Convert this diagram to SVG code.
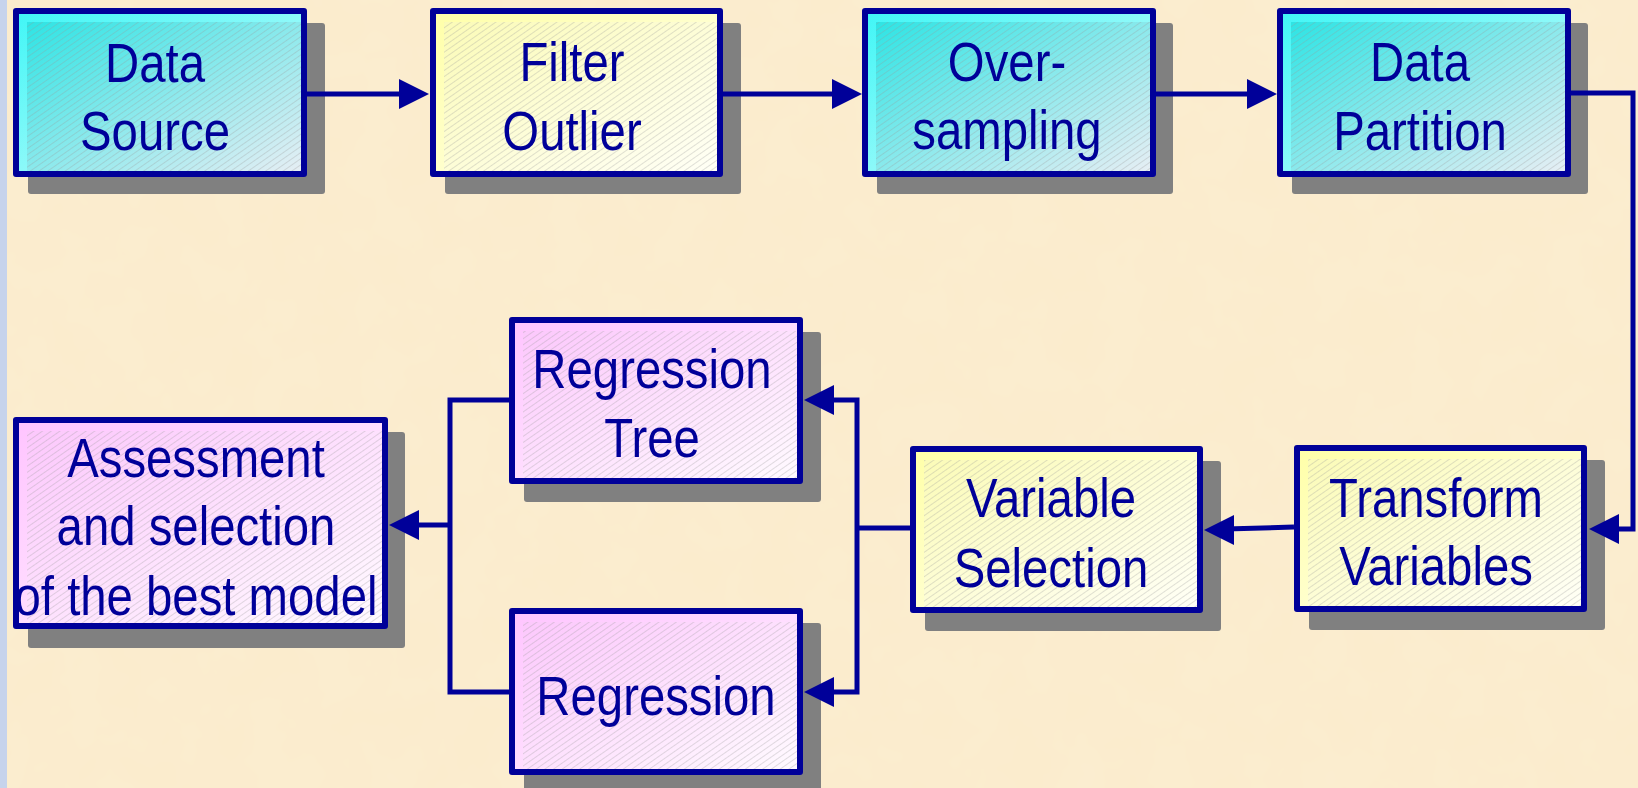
<svg xmlns="http://www.w3.org/2000/svg" width="1638" height="788" viewBox="0 0 1638 788">
<defs>
<style>
.t{font-family:"Liberation Sans",Arial,sans-serif;font-size:56px;fill:#000099;text-anchor:middle}
.shadow{fill:#808080}
.border{fill:none;stroke:#000099;stroke-width:6;stroke-linejoin:round}
.conn{fill:none;stroke:#000099;stroke-width:5;stroke-linejoin:miter}
.ah{fill:#000099}
</style>
<linearGradient id="gcO" x1="0" y1="0" x2="1" y2="1"><stop offset="0" stop-color="#3ff6f6"/><stop offset="1" stop-color="#d8fcfc"/></linearGradient>
<linearGradient id="gcI" x1="0" y1="0" x2="1" y2="1"><stop offset="0" stop-color="#2ee4e4"/><stop offset="1" stop-color="#e6eef4"/></linearGradient>
<linearGradient id="gyO" x1="0" y1="0" x2="1" y2="1"><stop offset="0" stop-color="#ffffa8"/><stop offset="1" stop-color="#fffff0"/></linearGradient>
<linearGradient id="gyI" x1="0" y1="0" x2="1" y2="1"><stop offset="0" stop-color="#fbfbb8"/><stop offset="1" stop-color="#fffff6"/></linearGradient>
<linearGradient id="gpO" x1="0" y1="0" x2="1" y2="1"><stop offset="0" stop-color="#ffc4ff"/><stop offset="1" stop-color="#fff6ff"/></linearGradient>
<linearGradient id="gpI" x1="0" y1="0" x2="1" y2="1"><stop offset="0" stop-color="#fcc8fc"/><stop offset="1" stop-color="#fffaff"/></linearGradient>
<pattern id="hatch" patternUnits="userSpaceOnUse" width="5" height="5" patternTransform="rotate(-35)">
<line x1="0" y1="2.5" x2="5" y2="2.5" stroke="#9a9a9a" stroke-opacity="0.3" stroke-width="1"/>
</pattern>
<filter id="mottle" x="0" y="0" width="100%" height="100%">
<feTurbulence type="fractalNoise" baseFrequency="0.02" numOctaves="3" seed="4"/>
<feColorMatrix type="matrix" values="0 0 0 0 0.96  0 0 0 0 0.86  0 0 0 0 0.66  0 0 0 0.6 -0.15"/>
</filter>
<path id="arrow" class="ah" d="M-30,-15 L0,0 L-30,15 Z"/>
</defs>

<rect x="0" y="0" width="1638" height="788" fill="#fbeccd"/>
<rect x="0" y="0" width="1638" height="788" filter="url(#mottle)"/>
<rect x="0" y="0" width="7" height="788" fill="#c6d3ec"/>

<g id="data-source">
<rect class="shadow" x="28" y="23" width="297" height="171" rx="3"/>
<rect x="16" y="11" width="288" height="163" fill="url(#gcO)"/>
<rect x="27" y="22" width="274" height="149" fill="url(#gcI)"/>
<rect x="27" y="22" width="274" height="149" fill="url(#hatch)"/>
<rect class="border" x="16" y="11" width="288" height="163"/>
<text class="t" transform="translate(155,82) scale(0.845,1)"><tspan x="0" y="0">Data</tspan><tspan x="0" y="68">Source</tspan></text>
</g>

<g id="filter-outlier">
<rect class="shadow" x="445" y="23" width="296" height="171" rx="3"/>
<rect x="433" y="11" width="287" height="163" fill="url(#gyO)"/>
<rect x="444" y="22" width="273" height="149" fill="url(#gyI)"/>
<rect x="444" y="22" width="273" height="149" fill="url(#hatch)"/>
<rect class="border" x="433" y="11" width="287" height="163"/>
<text class="t" transform="translate(572,81) scale(0.845,1)"><tspan x="0" y="0">Filter</tspan><tspan x="0" y="69">Outlier</tspan></text>
</g>

<g id="over-sampling">
<rect class="shadow" x="877" y="23" width="296" height="171" rx="3"/>
<rect x="865" y="11" width="288" height="163" fill="url(#gcO)"/>
<rect x="876" y="22" width="274" height="149" fill="url(#gcI)"/>
<rect x="876" y="22" width="274" height="149" fill="url(#hatch)"/>
<rect class="border" x="865" y="11" width="288" height="163"/>
<text class="t" transform="translate(1007,81) scale(0.845,1)"><tspan x="0" y="0">Over-</tspan><tspan x="0" y="68">sampling</tspan></text>
</g>

<g id="data-partition">
<rect class="shadow" x="1292" y="23" width="296" height="171" rx="3"/>
<rect x="1280" y="11" width="288" height="163" fill="url(#gcO)"/>
<rect x="1291" y="22" width="274" height="149" fill="url(#gcI)"/>
<rect x="1291" y="22" width="274" height="149" fill="url(#hatch)"/>
<rect class="border" x="1280" y="11" width="288" height="163"/>
<text class="t" transform="translate(1420,81) scale(0.845,1)"><tspan x="0" y="0">Data</tspan><tspan x="0" y="69">Partition</tspan></text>
</g>

<g id="transform-variables">
<rect class="shadow" x="1309" y="460" width="296" height="170" rx="3"/>
<rect x="1297" y="448" width="287" height="161" fill="url(#gyO)"/>
<rect x="1308" y="459" width="273" height="147" fill="url(#gyI)"/>
<rect x="1308" y="459" width="273" height="147" fill="url(#hatch)"/>
<rect class="border" x="1297" y="448" width="287" height="161"/>
<text class="t" transform="translate(1436,517) scale(0.845,1)"><tspan x="0" y="0">Transform</tspan><tspan x="0" y="68">Variables</tspan></text>
</g>

<g id="variable-selection">
<rect class="shadow" x="925" y="461" width="296" height="170" rx="3"/>
<rect x="913" y="449" width="287" height="161" fill="url(#gyO)"/>
<rect x="924" y="460" width="273" height="147" fill="url(#gyI)"/>
<rect x="924" y="460" width="273" height="147" fill="url(#hatch)"/>
<rect class="border" x="913" y="449" width="287" height="161"/>
<text class="t" transform="translate(1051,517) scale(0.845,1)"><tspan x="0" y="0">Variable</tspan><tspan x="0" y="70">Selection</tspan></text>
</g>

<g id="regression-tree">
<rect class="shadow" x="524" y="332" width="297" height="170" rx="3"/>
<rect x="512" y="320" width="288" height="161" fill="url(#gpO)"/>
<rect x="523" y="331" width="274" height="147" fill="url(#gpI)"/>
<rect x="523" y="331" width="274" height="147" fill="url(#hatch)"/>
<rect class="border" x="512" y="320" width="288" height="161"/>
<text class="t" transform="translate(652,388) scale(0.845,1)"><tspan x="0" y="0">Regression</tspan><tspan x="0" y="69">Tree</tspan></text>
</g>

<g id="regression">
<rect class="shadow" x="524" y="623" width="297" height="170" rx="3"/>
<rect x="512" y="611" width="288" height="161" fill="url(#gpO)"/>
<rect x="523" y="622" width="274" height="147" fill="url(#gpI)"/>
<rect x="523" y="622" width="274" height="147" fill="url(#hatch)"/>
<rect class="border" x="512" y="611" width="288" height="161"/>
<text class="t" transform="translate(656,715) scale(0.845,1)">Regression</text>
</g>

<g id="assessment">
<rect class="shadow" x="28" y="432" width="377" height="216" rx="3"/>
<rect x="16" y="420" width="369" height="206" fill="url(#gpO)"/>
<rect x="27" y="431" width="355" height="192" fill="url(#gpI)"/>
<rect x="27" y="431" width="355" height="192" fill="url(#hatch)"/>
<rect class="border" x="16" y="420" width="369" height="206"/>
<text class="t" transform="translate(196,477) scale(0.845,1)"><tspan x="0" y="0">Assessment</tspan><tspan x="0" y="68">and selection</tspan><tspan x="0" y="138">of the best model</tspan></text>
</g>

<g id="connectors">
<path class="conn" d="M307,94 H405"/>
<use href="#arrow" transform="translate(429,94)"/>
<path class="conn" d="M723,94 H840"/>
<use href="#arrow" transform="translate(862,94)"/>
<path class="conn" d="M1156,94 H1255"/>
<use href="#arrow" transform="translate(1277,94)"/>
<path class="conn" d="M1571,93 H1633 V529 H1610"/>
<use href="#arrow" transform="translate(1589,529) rotate(180)"/>
<path class="conn" d="M1294,527 L1225,529"/>
<use href="#arrow" transform="translate(1204,530) rotate(180)"/>
<path class="conn" d="M910,528 H857"/>
<path class="conn" d="M825,400 H857 V692 H825"/>
<use href="#arrow" transform="translate(804,400) rotate(180)"/>
<use href="#arrow" transform="translate(804,692) rotate(180)"/>
<path class="conn" d="M509,400 H450 V692 H509"/>
<path class="conn" d="M450,525 H410"/>
<use href="#arrow" transform="translate(389,525) rotate(180)"/>
</g>
</svg>
